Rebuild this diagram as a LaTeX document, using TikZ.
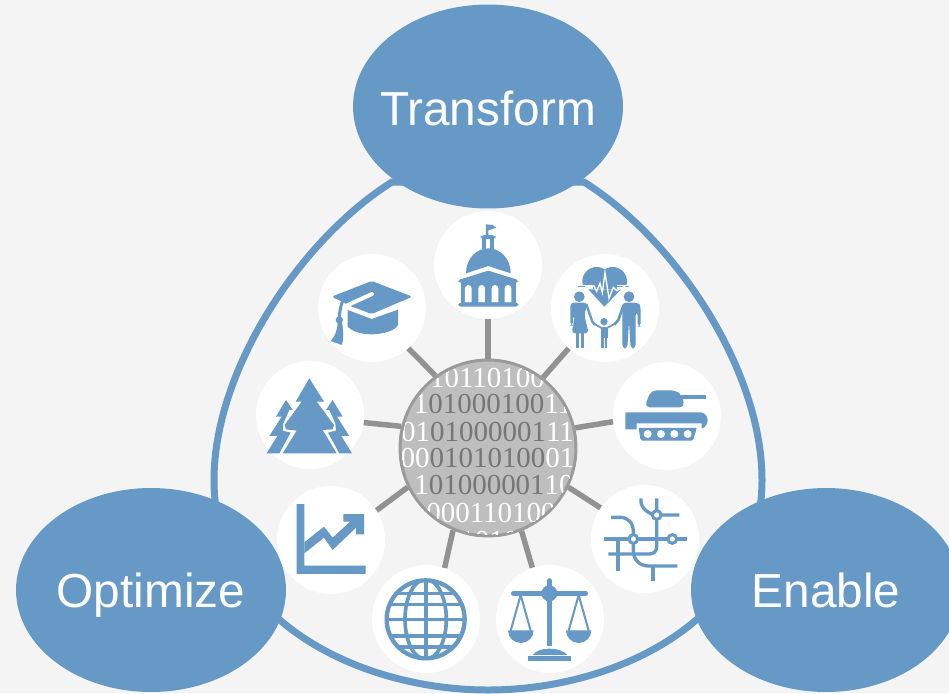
\documentclass[tikz,border=0pt]{standalone}
\usepackage{fontspec}
\setmainfont{Liberation Sans}
\newfontfamily\digitfont{Liberation Serif}
\usetikzlibrary{shapes.geometric}
\definecolor{pageg}{HTML}{F4F4F4}
\definecolor{iconb}{HTML}{6699C5}
\definecolor{linkg}{HTML}{929292}
\definecolor{hubf}{HTML}{BEBEBE}
\definecolor{hubl}{HTML}{9A9A9A}
\definecolor{darkd}{HTML}{767676}
\newcommand{\dk}[1]{\textcolor{darkd}{#1}}
\def\zu{0.1897pt}
\tikzset{
  x=0.02cm,y=-0.02cm,
  zoomed/.style n args={2}{shift={(#1,#2)},x=0.006667cm,y=-0.006667cm},
  lobe/.style={shape=ellipse,fill=iconb,minimum width=5.4cm,minimum height=4.08cm,inner sep=0pt,text=white,text depth=0pt,text height=19.4pt,font=\fontsize{27.2}{27.2}\selectfont},
  disk/.style={shape=circle,fill=white,minimum size=2.16cm,inner sep=0pt},
  link/.style={draw=linkg,line width=0.11cm},
  row/.style={inner sep=0pt,text=white,font=\digitfont\fontsize{16.5}{16.5}\selectfont},
  ic/.style={fill=iconb,draw=none},
  st/.style={draw=iconb,fill=none,line width=#1*\zu},
  wt/.style={draw=white,fill=none,line width=#1*\zu},
}
\begin{document}
\begin{tikzpicture}
\useasboundingbox (0,0) rectangle (949,693);
\clip (0,0) rectangle (949,693);
\fill[pageg] (0,0) rectangle (949,693);
% ring
\draw[iconb,line width=0.14cm] (392,182)
  .. controls (300,240) and (214,370) .. (214,480)
  .. controls (214,620) and (360,690) .. (488,690)
  .. controls (616,690) and (762,620) .. (762,480)
  .. controls (762,370) and (676,240) .. (584,182) -- cycle;
% nodes
\node[lobe] (transform) at (488,106.5) {\raisebox{-0.85pt}{\makebox[0pt]{Transform}}};
\node[lobe] (optimize) at (151,590) {\makebox[0pt]{Optimize}};
\node[lobe] (enable) at (826,590) {\makebox[0pt]{Enable}};
\node[shape=circle,fill=hubf,draw=hubl,line width=0.06cm,minimum size=3.52cm,inner sep=0pt] (hub) at (488,448) {};
\node[disk] (capitol) at (488,265) {};
\node[disk] (cap) at (372,308) {};
\node[disk] (family) at (605,308) {};
\node[disk] (tank) at (667,416) {};
\node[disk] (metro) at (645,539) {};
\node[disk] (scales) at (550,619) {};
\node[disk] (globe) at (426,619) {};
\node[disk] (chart) at (331,540) {};
\node[disk] (tree) at (310,415) {};
\foreach \d/\ha/\da in {capitol/90/270,cap/126.7/-48.7,family/52.7/228.6,tank/13.6/186.2,metro/-26.6/145.4,scales/-68.2/109,globe/247.6/70,chart/206.6/33,tree/166.3/-8.6}
  \draw[link] (hub.\ha) -- (\d.\da);
% digits
\begin{scope}
\clip (488,448) circle (86.5);
\node[row] (r1) at (487.5,378) {10110100};
\node[row] (r2) at (493,404) {1\dk{01000100}11};
\node[row] (r3) at (487.5,432) {01\dk{01000001}11};
\node[row] (r4) at (487.5,458) {00\dk{01010100}01};
\node[row] (r5) at (494,485) {1\dk{01000001}10};
\node[row] (r6) at (491,513) {000110100};
\node[row] (r7) at (490,541) {110100};
\end{scope}
% capitol + cap
\begin{scope}[zoomed={310}{205}]
\fill[ic] (528,58)--(548,60)--(559,68)--(547,72)--(535,76)--(535,90)--(528,90)--cycle;
\fill[ic,rounded corners=2pt] (512,90) rectangle (557,102);
\fill[ic] (517,100) rectangle (527,132);
\fill[ic] (541,100) rectangle (552,132);
\fill[ic] (468,205) .. controls (468,160) and (500,130) .. (535,130) .. controls (570,130) and (602,160) .. (602,205) -- (535,183) -- cycle;
\fill[ic,rounded corners=1pt] (445,225)--(535,197)--(625,225)--(625,233)--(445,233)--cycle;
\fill[ic] (452,230) rectangle (617,296);
\foreach \w in {475,515,555,594}
  \fill[white] (\w-10,292) -- (\w-10,250) arc[start angle=180,end angle=360,radius=10] -- (\w+10,292) -- cycle;
\fill[ic,rounded corners=1.5pt] (445,293) rectangle (625,305);
% cap
\fill[ic,rounded corners=1pt] (65,275)--(185,228)--(307,275)--(185,327)--(113,300)--(100,292)--cycle;
\draw[wt=12,line cap=round] (186,267)--(107,303);
\fill[ic] (113,315)--(185,342)--(264,314)--(264,360) .. controls (255,378) and (215,388) .. (185,388) .. controls (150,388) and (125,378) .. (113,365) -- cycle;
\draw[st=9] (98,288) .. controls (90,310) and (88,325) .. (88,345);
\fill[ic] (88,345) circle (11);
\fill[ic] (83,352) -- (96,352) .. controls (100,375) and (102,400) .. (96,420) -- (62,408) .. controls (75,395) and (82,375) .. (83,352) -- cycle;
\end{scope}
% family + tank
\begin{scope}[zoomed={545}{250}]
\fill[ic] (155,94) circle (43);
\fill[ic] (203,94) circle (43);
\fill[white] (100,106) rectangle (255,145);
\draw[st=4] (100,110)--(252,110);
\fill[ic] (130,118)--(228,118)--(178,170)--cycle;
\fill[ic] (145,100) rectangle (215,118);
\draw[wt=4] (120,110)--(147,108)--(155,124)--(165,100)--(172,128)--(180,68)--(192,145)--(205,112)--(215,122)--(240,108);
% woman
\fill[ic] (103,140) circle (16);
\fill[ic,rounded corners=2pt] (76,158)--(128,158)--(118,195)--(131,250)--(80,250)--(90,195)--(84,195)--(84,227)--(76,227)--cycle;
\fill[ic] (92,248) rectangle (102,294);
\fill[ic] (108,248) rectangle (118,294);
\draw[st=7] (124,163)--(142,215)--(150,225);
\draw[st=5] (148,222)--(170,234);
% child
\fill[ic] (177,215) circle (11);
\fill[ic] (167,230) rectangle (188,264);
\fill[ic] (169,262) rectangle (175.5,295);
\fill[ic] (180,262) rectangle (187,295);
\draw[st=5] (186,234)--(208,222);
% man
\fill[ic] (252,140) circle (16);
\fill[ic,rounded corners=2pt] (232,158)--(280,158)--(287,168)--(287,230)--(278,230)--(278,185)--(272,185)--(272,295)--(257,295)--(252,215)--(247,295)--(232,295)--cycle;
\draw[st=8] (236,165)--(220,210)--(208,224);
% tank
\fill[ic,rounded corners=3pt] (318,421)--(392,421)--(410,435)--(420,472)--(298,472)--cycle;
\fill[ic] (405,435) rectangle (483,447);
\fill[ic] (241,487)--(465,487) .. controls (478,487) and (488,498) .. (488,510) .. controls (488,522) and (480,532) .. (470,536)--(470,520)--(275,520)--(275,538)--(241,538)--cycle;
\fill[ic] (281,534)--(455,534)--(446,566)--(440,572)--(292,572)--(286,566)--cycle;
\foreach \w in {308,348,388,428} \fill[white] (\w,552) circle (12);
\end{scope}
% metro + scales
\begin{scope}[zoomed={490}{480}]
\draw[st=10] (453,55)--(453,65) .. controls (453,85) and (480,105) .. (500,105)--(568,105);
\draw[st=10] (500,55)--(500,200) .. controls (500,215) and (490,222) .. (478,222)--(355,222);
\draw[st=10] (363,112)--(390,112) .. controls (415,112) and (430,130) .. (430,155)--(430,212) .. controls (430,240) and (450,258) .. (475,258)--(562,258);
\draw[st=10] (342,177)--(592,177);
\draw[st=10] (384,177)--(384,272);
\draw[st=10] (489,258)--(489,302);
\foreach \p/\q in {500/105,430/177,547/177}
  \draw[iconb,fill=white,line width=9*\zu] (\p,\q) circle (13);
% scales
\draw[st=14,line cap=round] (70,340)--(287,340);
\fill[ic] (178,340) circle (24);
\draw[st=15,line cap=round] (178,302)--(178,325);
\fill[ic] (170,340) rectangle (187,498);
\fill[ic] (128,525) .. controls (140,510) and (160,506) .. (178,506) .. controls (200,506) and (222,512) .. (232,525) -- cycle;
\fill[ic] (114,528) rectangle (243,543);
\draw[st=6] (62,452)--(92,345)--(122,452);
\draw[st=6] (236,452)--(266,345)--(296,452);
\fill[ic] (54,451) arc[start angle=180,end angle=0,x radius=38.5,y radius=38] -- cycle;
\fill[ic] (228,451) arc[start angle=180,end angle=0,x radius=38,y radius=38] -- cycle;
\end{scope}
% globe
\begin{scope}[zoomed={365}{560}]
\begin{scope}
\clip (182,178) circle (117);
\foreach \q in {100,133,178,227,260} \draw[st=11] (50,\q)--(320,\q);
\draw[st=12] (182,55)--(182,300);
\draw[st=11] (182,178) ellipse [x radius=62,y radius=120];
\end{scope}
\draw[st=13] (182,178) circle (117);
\end{scope}
% chart
\begin{scope}[zoomed={250}{355}]
\fill[ic] (140,447)--(163,447)--(163,632)--(347,632)--(347,657)--(140,657)--cycle;
\fill[ic] (163,562)--(222,515)--(248,548)--(300,500)--(280,500)--(280,477)--(342,477)--(342,538)--(318,538)--(318,518)--(248,585)--(222,548)--(163,595)--cycle;
\end{scope}
% trees
\begin{scope}[zoomed={200}{160}]
\fill[ic] (328,655)--(372,725)--(350,725)--(402,795)--(398,808)--(368,810)--(410,880)--(248,880)--(290,812)--(258,808)--(254,795)--(305,725)--(287,725)--cycle;
\fill[ic] (258,720)--(278,750)--(268,750)--(250,790)--(248,812)--(272,818)--(238,880)--(200,880)--(232,828)--(208,828)--(245,770)--(228,770)--cycle;
\fill[ic] (398,720)--(378,750)--(388,750)--(406,790)--(408,812)--(384,818)--(418,880)--(456,880)--(424,828)--(448,828)--(411,770)--(428,770)--cycle;
\end{scope}
\end{tikzpicture}
\end{document}
